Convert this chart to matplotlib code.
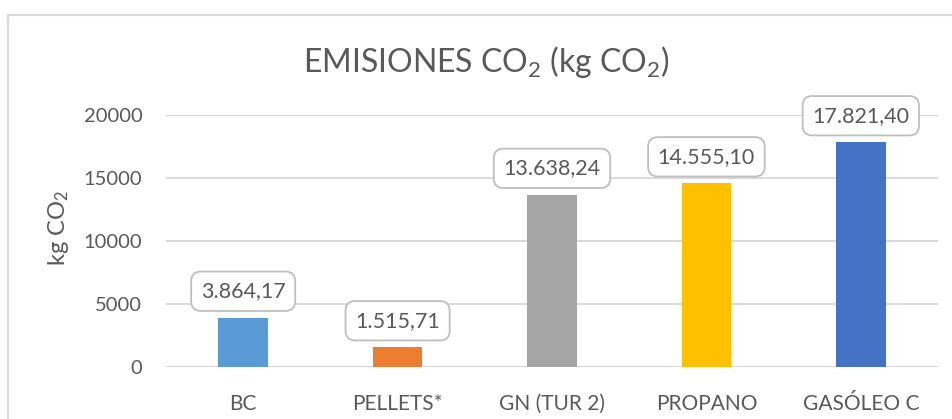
import matplotlib
matplotlib.use("Agg")
import matplotlib.pyplot as plt
from matplotlib.lines import Line2D

plt.rcParams["font.family"] = ["Lato", "DejaVu Sans"]
plt.rcParams["mathtext.fontset"] = "custom"
plt.rcParams["mathtext.rm"] = "Lato"
plt.rcParams["mathtext.it"] = "Lato"
plt.rcParams["mathtext.default"] = "rm"

categories = ["BC", "PELLETS*", "GN (TUR 2)", "PROPANO", "GASÓLEO C"]
values = [3864.17, 1515.71, 13638.24, 14555.10, 17821.40]
value_labels = ["3.864,17", "1.515,71", "13.638,24", "14.555,10", "17.821,40"]
colors = ["#5B9BD5", "#ED7D31", "#A5A5A5", "#FFC000", "#4472C4"]
yticks = [0, 5000, 10000, 15000, 20000]

text_c = "#595959"
grid_c = "#D9D9D9"

W, H = 953, 419
fig = plt.figure(figsize=(W / 100, H / 100), dpi=100)

# plot area in pixels: x 166..938, y 115..366.5
ax = fig.add_axes([166 / W, 1 - 366.5 / H, (938 - 166) / W, (366.5 - 115) / H])

x = range(len(categories))
ax.bar(x, values, width=0.32, color=colors, zorder=3)
ax.set_xlim(-0.5, len(categories) - 0.5)
ax.set_ylim(0, 20000)
ax.set_yticks(yticks)
ax.set_yticklabels([str(t) for t in yticks])
ax.set_xticks(list(x))
ax.set_xticklabels(categories)

ax.grid(axis="y", color=grid_c, linewidth=1.4, zorder=0)
for s in ax.spines.values():
    s.set_visible(False)
ax.tick_params(axis="both", length=0, colors=text_c)
ax.tick_params(axis="y", pad=17, labelsize=14.5)
ax.tick_params(axis="x", pad=20, labelsize=15)

for i, (v, lab) in enumerate(zip(values, value_labels)):
    ax.annotate(lab, xy=(i, v), xytext=(0, 12), textcoords="offset points",
                ha="center", va="bottom", fontsize=15.5, color=text_c, zorder=5,
                bbox=dict(boxstyle="round,pad=0.45,rounding_size=0.45",
                          fc="white", ec="#BFBFBF", lw=1.3))

fig.text(486 / W, 1 - 62 / H, r"EMISIONES CO$_2$ (kg CO$_2$)",
         ha="center", va="center", fontsize=23, color=text_c)
fig.text(59 / W, 1 - 228 / H, r"kg CO$_2$", rotation=90,
         ha="center", va="center", fontsize=17, color=text_c)

# chart frame (partly visible)
fig.add_artist(Line2D([8.5 / W, 1], [1 - 15.5 / H, 1 - 15.5 / H],
                      transform=fig.transFigure, color=grid_c, lw=1.5))
fig.add_artist(Line2D([8.5 / W, 8.5 / W], [0, 1 - 15.5 / H],
                      transform=fig.transFigure, color=grid_c, lw=1.5))

fig.savefig("out.png", dpi=100)
